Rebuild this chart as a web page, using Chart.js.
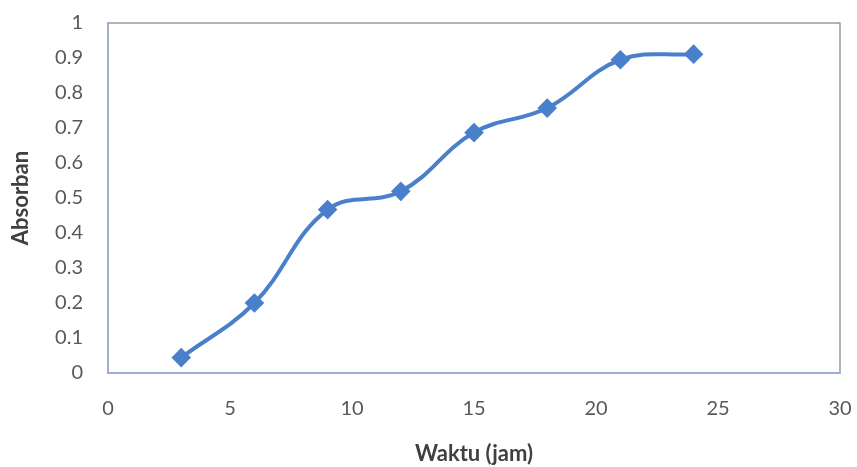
<!DOCTYPE html>
<html>
<head>
<meta charset="utf-8">
<script src="https://cdn.jsdelivr.net/npm/chart.js@4/dist/chart.umd.min.js"></script>
<style>
  html, body { margin: 0; padding: 0; background: #ffffff; }
  #wrap { width: 857px; height: 467px; }
</style>
</head>
<body>
<div id="wrap"><canvas id="c" width="857" height="467"></canvas></div>
<script>
// Absorbance measured over time
const hours = [3, 6, 9, 12, 15, 18, 21, 24];
const absorban = [0.044, 0.200, 0.467, 0.519, 0.687, 0.757, 0.895, 0.911];

const xTitle = 'Waktu (jam)';
const yTitle = 'Absorban';

const FONT = "Lato, 'Open Sans', sans-serif";

// Gray frame around the plot area, drawn beneath the axes
const frame = {
  id: 'frame',
  beforeDraw(chart) {
    const a = chart.chartArea, ctx = chart.ctx;
    ctx.save();
    ctx.strokeStyle = '#8c8c8c';
    ctx.lineWidth = 1.3;
    ctx.strokeRect(a.left, a.top, a.right - a.left, a.bottom - a.top);
    ctx.restore();
  }
};

new Chart(document.getElementById('c'), {
  type: 'line',
  data: {
    datasets: [{
      data: hours.map((h, i) => ({ x: h, y: absorban[i] })),
      borderColor: '#4a7fcb',
      backgroundColor: '#4a7fcb',
      borderWidth: 4,
      tension: 0.4,
      pointStyle: 'rectRot',
      pointRadius: 7,
      pointHoverRadius: 7,
      fill: false
    }]
  },
  options: {
    responsive: false,
    animation: false,
    layout: { padding: { top: 23, right: 17, left: 0, bottom: 0 } },
    plugins: { legend: { display: false }, tooltip: { enabled: false } },
    scales: {
      x: {
        type: 'linear',
        min: 0, max: 30,
        grid: { display: false, drawTicks: false },
        border: { display: true, color: '#9aaed6', width: 1.5 },
        ticks: {
          stepSize: 5, padding: 24,
          color: '#595959',
          font: { family: FONT, size: 20 }
        },
        title: {
          display: true, text: xTitle,
          color: '#404040',
          font: { family: FONT, size: 22, weight: 'bold' },
          padding: { top: 0, bottom: 0 }
        },
        afterFit(scale) {
          scale.height = 94;
          scale.paddingLeft = 0;
          scale.paddingRight = 0;
        }
      },
      y: {
        type: 'linear',
        min: 0, max: 1,
        grid: { display: false, drawTicks: false },
        border: { display: true, color: '#9aaed6', width: 1.5 },
        ticks: {
          stepSize: 0.1, padding: 25,
          color: '#595959',
          font: { family: FONT, size: 20 },
          callback: v => String(+v.toFixed(1))
        },
        title: {
          display: true, text: yTitle,
          color: '#404040',
          font: { family: FONT, size: 22, weight: 'bold' },
          padding: { top: 8, bottom: 0 }
        },
        afterFit(scale) {
          scale.width = 108;
          scale.paddingTop = 0;
          scale.paddingBottom = 0;
        }
      }
    }
  },
  plugins: [frame]
});
</script>
</body>
</html>
